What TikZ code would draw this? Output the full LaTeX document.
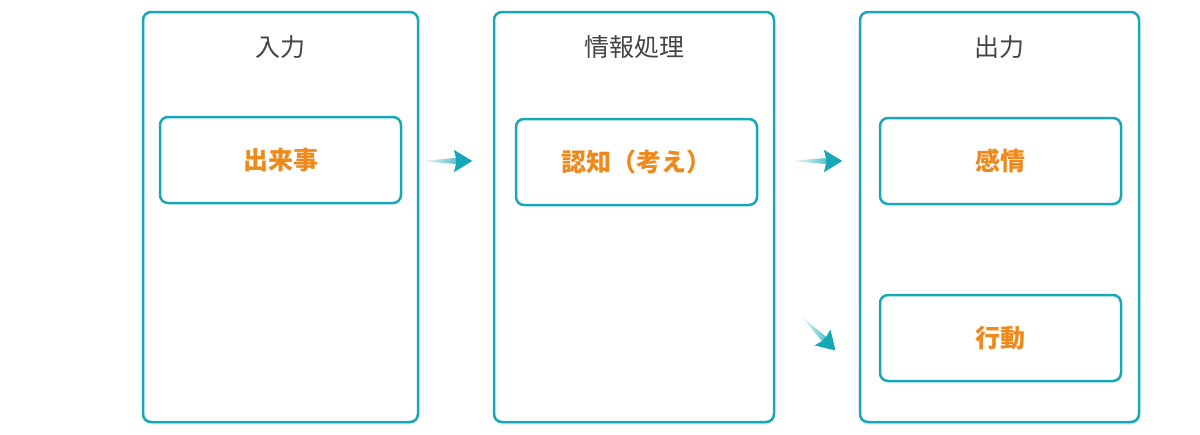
\documentclass[tikz,border=0pt]{standalone}
\usepackage{fontspec}
\newfontfamily\cjk{Noto Sans CJK JP}
\usetikzlibrary{shadows.blur}
\definecolor{teal1}{HTML}{16A8B6}
\definecolor{orng}{HTML}{EE8A1C}
\definecolor{ttl}{HTML}{444444}
\tikzset{
  panel/.style={draw=teal1,line width=2.5pt,rounded corners=8pt,fill=white,blur shadow={shadow blur steps=6,shadow xshift=0pt,shadow yshift=-2pt,shadow opacity=15}},
  inner/.style={draw=teal1,line width=2.5pt,rounded corners=8pt,fill=white},
  ttext/.style={font=\cjk\fontsize{25}{28}\selectfont,text=ttl},
  itext/.style={font=\cjk\bfseries\fontsize{25}{28}\selectfont,text=orng},
}
\newcommand{\taperarrow}[3]{%
\begin{scope}[shift={(#1)},rotate=#2]
\shade[left color=white,right color=teal1] (0,0) -- (#3-16,-3) -- (#3-18,-11) -- (#3,0) -- (#3-18,11) -- (#3-16,3) -- cycle;
\fill[teal1] (#3-16,-3) -- (#3-18,-11) -- (#3,0) -- (#3-18,11) -- (#3-16,3) -- cycle;
\end{scope}}
\begin{document}
\begin{tikzpicture}[x=1pt,y=-1pt]
\useasboundingbox (0,0) rectangle (1200,434);
\path[panel] (143,12) rectangle (418,422);
\path[panel] (494,12) rectangle (774,422);
\path[panel] (860,12) rectangle (1139,422);
\node[ttext] (t1) at (280.5,47) {入力};
\node[ttext] (t2) at (634,47) {情報処理};
\node[ttext] (t3) at (999.5,47) {出力};
\draw[inner] (160,117) rectangle (401,203);
\node[itext] (a) at (280.5,160) {出来事};
\draw[inner] (516,119) rectangle (757,205);
\node[itext] (b) at (636.5,162) {認知（考え）};
\draw[inner] (880,118) rectangle (1121,204);
\node[itext] (c) at (1000.5,161) {感情};
\draw[inner] (880,295) rectangle (1121,381);
\node[itext] (d) at (1000.5,338) {行動};
\taperarrow{420,161}{0}{52}
\taperarrow{790,161}{0}{52}
\taperarrow{800,315}{-45}{50}
\end{tikzpicture}
\end{document}
